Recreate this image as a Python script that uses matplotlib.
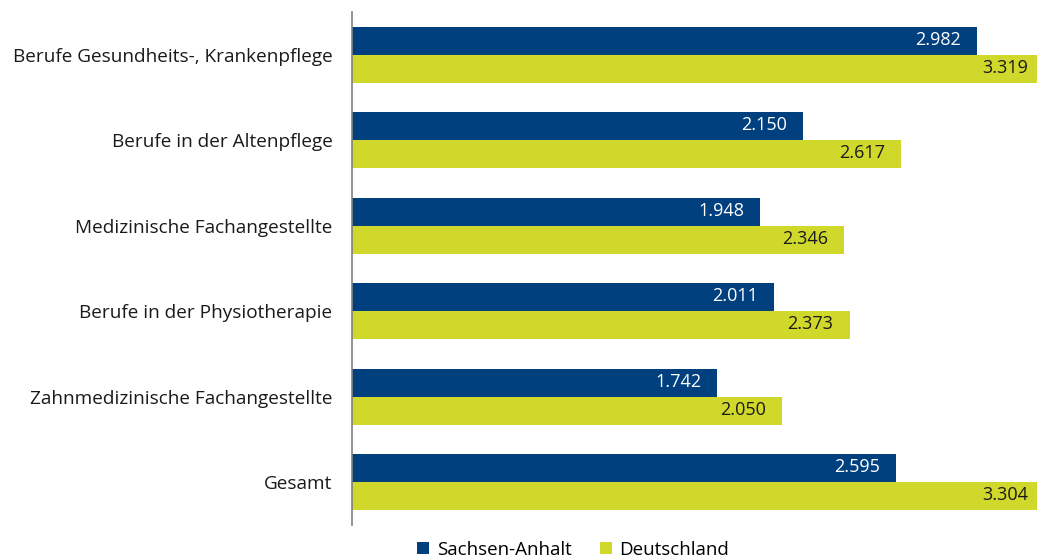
import numpy as np
import matplotlib.pyplot as plt
from matplotlib.transforms import offset_copy

plt.rcParams['font.family'] = ['Open Sans', 'DejaVu Sans']

categories = ['Berufe Gesundheits-, Krankenpflege', 'Berufe in der Altenpflege',
              'Medizinische Fachangestellte', 'Berufe in der Physiotherapie',
              'Zahnmedizinische Fachangestellte', 'Gesamt']
sachsen_anhalt = [2982, 2150, 1948, 2011, 1742, 2595]
deutschland = [3319, 2617, 2346, 2373, 2050, 3304]
series_names = ['Sachsen-Anhalt', 'Deutschland']

blue = '#00407f'
green = '#d0d82c'

fig = plt.figure(figsize=(10.37, 5.6), dpi=100)
ax = fig.add_axes([352 / 1037, 1 - 525 / 560, 1 - 352 / 1037, (525 - 12) / 560])

y = np.arange(len(categories))
h = 0.33
xmax = 3267
ax.barh(y - h / 2, sachsen_anhalt, height=h, color=blue, label=series_names[0])
ax.barh(y + h / 2, deutschland, height=h, color=green, label=series_names[1])

def fmt(v):
    return '{:,}'.format(v).replace(',', '.')

# value labels inside the bar end; bars running past the edge get them at the axis edge
for yi, v in zip(y, sachsen_anhalt):
    tr = offset_copy(ax.transData, fig=fig, x=-16 if v < xmax else -9, y=1, units='dots')
    ax.text(min(v, xmax), yi - h / 2, fmt(v), transform=tr, ha='right', va='center',
            color='white', fontsize=13)
for yi, v in zip(y, deutschland):
    tr = offset_copy(ax.transData, fig=fig, x=-16 if v < xmax else -9, y=1, units='dots')
    ax.text(min(v, xmax), yi + h / 2, fmt(v), transform=tr, ha='right', va='center',
            color='#1a1a1a', fontsize=13)

ax.set_xlim(0, xmax)
ax.set_ylim(len(categories) - 0.5, -0.5)
ax.set_yticks(y)
ax.set_yticklabels(categories, fontsize=13.7, color='#1a1a1a')
ax.tick_params(axis='y', length=0, pad=14)
ax.set_xticks([])
for s in ['top', 'right', 'bottom']:
    ax.spines[s].set_visible(False)
ax.spines['left'].set_color('#808080')
ax.spines['left'].set_linewidth(1.2)

fig.legend(loc='lower center', bbox_to_anchor=(573 / 1037, -0.028), ncol=2, frameon=False,
           fontsize=13.5, handlelength=0.65, handleheight=0.65, columnspacing=1.5, handletextpad=0.4)

fig.savefig('out.png', dpi=100)
